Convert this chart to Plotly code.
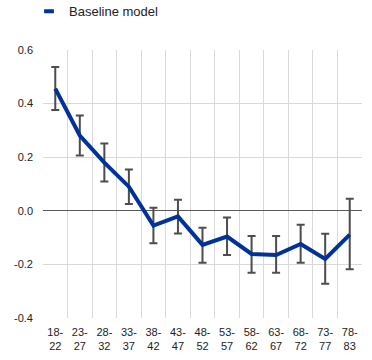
import plotly.graph_objects as go

categories = ["18-<br>22", "23-<br>27", "28-<br>32", "33-<br>37", "38-<br>42", "43-<br>47",
              "48-<br>52", "53-<br>57", "58-<br>62", "63-<br>67", "68-<br>72", "73-<br>77", "78-<br>83"]
baseline = [0.456, 0.281, 0.18, 0.09, -0.055, -0.021, -0.127, -0.096, -0.161, -0.165, -0.124, -0.18, -0.089]
upper = [0.537, 0.356, 0.251, 0.154, 0.011, 0.041, -0.063, -0.025, -0.094, -0.094, -0.052, -0.086, 0.045]
lower = [0.376, 0.206, 0.109, 0.025, -0.121, -0.085, -0.194, -0.165, -0.231, -0.231, -0.194, -0.272, -0.218]
y_ticks = [-0.4, -0.2, 0.0, 0.2, 0.4, 0.6]

xs = list(range(len(categories)))
err_plus = [u - b for u, b in zip(upper, baseline)]
err_minus = [b - l for b, l in zip(baseline, lower)]

fig = go.Figure()
fig.add_trace(go.Scatter(
    x=xs, y=baseline, mode="lines", name="Baseline model",
    line=dict(color="#003299", width=4),
    error_y=dict(type="data", symmetric=False, array=err_plus, arrayminus=err_minus,
                 color="#4d4d4d", thickness=2, width=4),
    showlegend=False,
))
fig.add_trace(go.Scatter(
    x=[None], y=[None], mode="markers", name="Baseline model",
    marker=dict(symbol="line-ew", size=7, line=dict(color="#003299", width=4)),
    showlegend=True,
))

font = "Liberation Sans, Arial, sans-serif"
fig.update_layout(
    width=372, height=360,
    margin=dict(l=43, r=10, t=50, b=42, autoexpand=False),
    paper_bgcolor="white", plot_bgcolor="white",
    font=dict(family=font, size=11, color="#222222"),
    legend=dict(orientation="h", x=0.078, xref="container", xanchor="left",
                y=1.2, yref="paper", yanchor="top",
                font=dict(size=13, color="#222222"), itemwidth=30,
                bgcolor="rgba(0,0,0,0)"),
    xaxis=dict(
        range=[-0.5, len(categories) - 0.5],
        tickmode="array", tickvals=xs, ticktext=categories,
        showgrid=False, zeroline=False, showline=False, ticks="",
        ticklabelstandoff=6,
        tickfont=dict(size=11, color="#222222"),
        minor=dict(tickmode="array", tickvals=[i - 0.5 for i in range(len(categories) + 1)],
                   showgrid=True, gridcolor="#d9d9d9", gridwidth=1, ticks=""),
    ),
    yaxis=dict(
        range=[-0.4, 0.6], tickmode="array", tickvals=y_ticks,
        ticktext=[f"{v:.1f}" for v in y_ticks],
        showgrid=True, gridcolor="#d9d9d9", gridwidth=1,
        zeroline=True, zerolinecolor="#595959", zerolinewidth=1,
        showline=False, ticks="", ticklen=0, ticklabelstandoff=9,
        tickfont=dict(size=11, color="#222222"),
    ),
)

fig.write_html("out.html", config={"displayModeBar": False},
               post_script="document.body.style.margin='0px';")
